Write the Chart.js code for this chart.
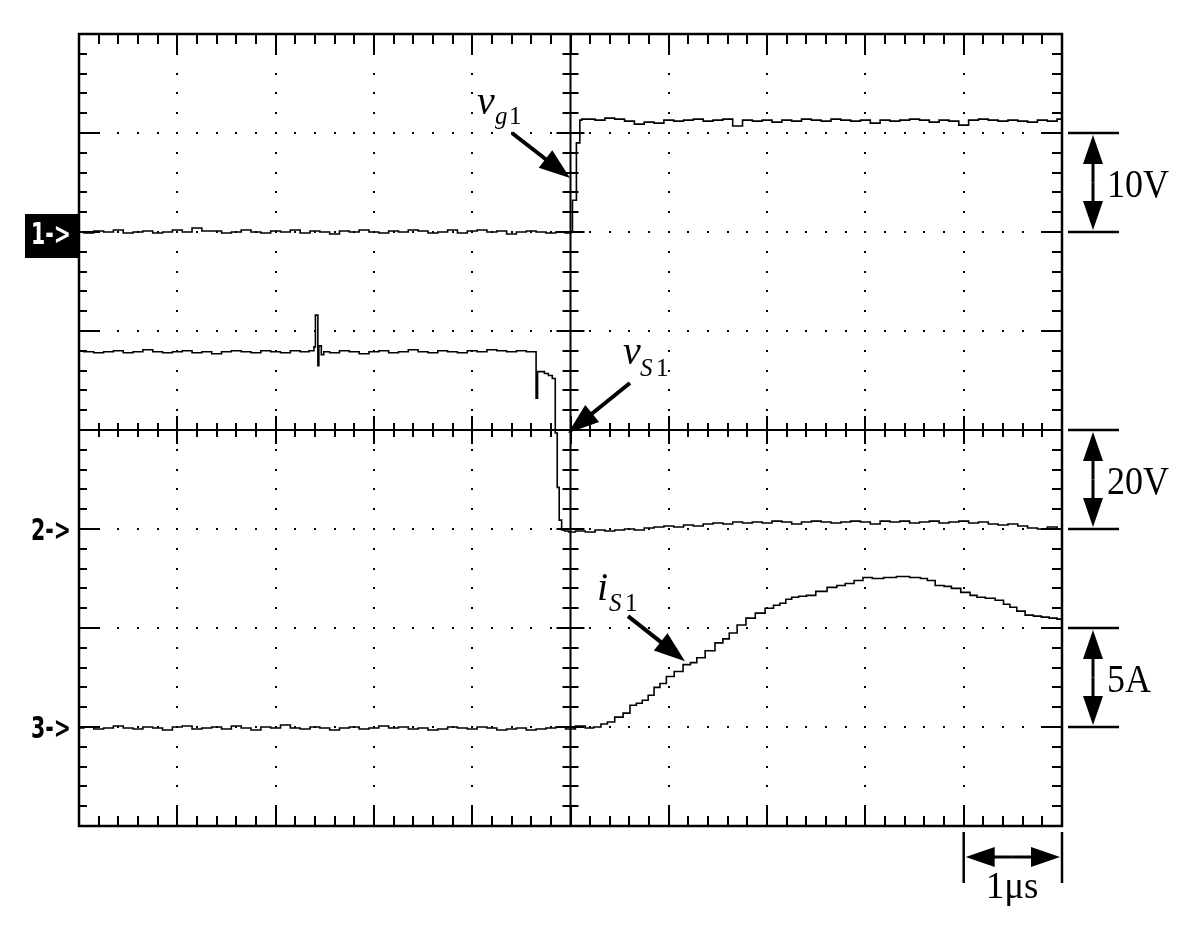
<!DOCTYPE html>
<html>
<head>
<meta charset="utf-8">
<script src="https://cdn.jsdelivr.net/npm/chart.js@4/dist/chart.umd.min.js"></script>
<style>
html,body{margin:0;padding:0;background:#fff;}
canvas{display:block;}
</style>
</head>
<body>
<canvas id="c" width="1198" height="931"></canvas>
<script>
// ---- Data (time in divisions 0..10, 1 div = 1 µs; values in screen divisions, centre = 0) ----
const channelLabels = ['1->', '2->', '3->'];
const channelRefs = [2, -1, -3];
const scaleLabels = ['10V', '20V', '5A'];
const timeLabel = '1\u03bcs';

// v_g1
const vg1Time = [
  0.0,0.1,0.2,0.3,0.4,0.5,0.6,0.7,0.8,0.9,
  1.0,1.1,1.2,1.3,1.4,1.5,1.6,1.7,1.8,1.9,
  2.0,2.1,2.2,2.3,2.4,2.5,2.6,2.7,2.8,2.9,
  3.0,3.1,3.2,3.3,3.4,3.5,3.6,3.7,3.8,3.9,
  4.0,4.1,4.2,4.3,4.4,4.5,4.6,4.7,4.8,4.9,
  4.99,5.02,5.02,5.06,5.06,5.09,5.10,5.13,
  5.2,5.3,5.4,5.5,5.6,5.7,5.8,5.9,6.0,6.1,
  6.2,6.3,6.4,6.5,6.6,6.7,6.8,6.9,7.0,7.1,
  7.2,7.3,7.4,7.5,7.6,7.7,7.8,7.9,8.0,8.1,
  8.2,8.3,8.4,8.5,8.6,8.7,8.8,8.9,9.0,9.1,
  9.2,9.3,9.4,9.5,9.6,9.7,9.8,9.9,10.0
];
const vg1Vals = [
  2.00,1.99,2.01,2.00,2.02,1.99,2.00,2.01,1.99,2.00,
  2.02,2.00,2.04,2.01,2.01,1.99,2.00,2.02,2.00,1.99,
  2.01,2.00,2.02,1.99,2.01,2.00,1.98,2.01,2.00,2.02,
  2.00,1.99,2.01,2.00,2.02,2.01,1.99,2.00,2.02,1.99,
  2.01,2.02,2.00,2.01,1.98,2.00,2.01,2.00,1.99,2.00,
  1.99,2.00,2.32,2.32,2.90,2.90,3.13,3.14,
  3.14,3.13,3.15,3.14,3.12,3.09,3.11,3.10,3.13,3.12,
  3.13,3.14,3.12,3.13,3.14,3.07,3.13,3.12,3.13,3.11,
  3.13,3.12,3.14,3.13,3.12,3.14,3.13,3.12,3.13,3.10,
  3.13,3.12,3.13,3.14,3.13,3.11,3.13,3.12,3.08,3.13,
  3.14,3.13,3.12,3.13,3.12,3.11,3.13,3.12,3.14
];

// v_S1
const vs1Time = [
  0.0,0.1,0.2,0.3,0.4,0.5,0.6,0.7,0.8,0.9,
  1.0,1.1,1.2,1.3,1.4,1.5,1.6,1.7,1.8,1.9,
  2.0,2.1,2.2,2.3,
  2.38,2.40,2.41,2.43,2.43,2.45,2.48,2.5,
  2.6,2.7,2.8,2.9,3.0,3.1,3.2,3.3,3.4,3.5,
  3.6,3.7,3.8,3.9,4.0,4.1,4.2,4.3,4.4,4.5,4.6,
  4.64,4.66,4.67,4.72,4.75,4.80,4.83,4.86,4.87,4.90,4.92,4.96,
  5.0,5.1,5.2,5.3,5.4,5.5,5.6,5.7,5.8,5.9,
  6.0,6.1,6.2,6.3,6.4,6.5,6.6,6.7,6.8,6.9,
  7.0,7.1,7.2,7.3,7.4,7.5,7.6,7.7,7.8,7.9,
  8.0,8.1,8.2,8.3,8.4,8.5,8.6,8.7,8.8,8.9,
  9.0,9.1,9.2,9.3,9.4,9.5,9.6,9.7,9.8,9.9,10.0
];
const vs1Vals = [
  0.80,0.79,0.78,0.79,0.80,0.78,0.79,0.81,0.79,0.78,
  0.79,0.80,0.78,0.79,0.77,0.79,0.80,0.79,0.78,0.80,
  0.79,0.78,0.80,0.79,
  0.80,0.84,1.16,1.16,0.65,0.85,0.76,0.79,
  0.78,0.80,0.79,0.77,0.79,0.80,0.78,0.79,0.81,0.79,
  0.78,0.80,0.79,0.78,0.80,0.79,0.81,0.80,0.79,0.80,0.79,
  0.79,0.32,0.59,0.59,0.57,0.55,0.52,-0.03,-0.58,-0.91,-1.01,-1.02,
  -1.03,-1.02,-1.03,-1.01,-1.02,-1.01,-1.00,-1.01,-0.99,-0.98,
  -0.97,-0.98,-0.96,-0.97,-0.95,-0.94,-0.95,-0.93,-0.94,-0.93,
  -0.94,-0.92,-0.93,-0.95,-0.93,-0.92,-0.93,-0.94,-0.93,-0.92,
  -0.93,-0.95,-0.92,-0.93,-0.92,-0.94,-0.93,-0.92,-0.94,-0.93,
  -0.92,-0.94,-0.93,-0.95,-0.96,-0.95,-0.97,-0.99,-1.00,-0.98,-1.00
];

// i_S1
const is1Time = [
  0.0,0.1,0.2,0.3,0.4,0.5,0.6,0.7,0.8,0.9,
  1.0,1.1,1.2,1.3,1.4,1.5,1.6,1.7,1.8,1.9,
  2.0,2.1,2.2,2.3,2.4,2.5,2.6,2.7,2.8,2.9,
  3.0,3.1,3.2,3.3,3.4,3.5,3.6,3.7,3.8,3.9,
  4.0,4.1,4.2,4.3,4.4,4.5,4.6,4.7,4.8,4.9,
  5.0,5.1,5.2,
  5.27,5.35,5.40,5.50,5.57,5.64,5.70,5.76,5.82,5.88,
  5.94,6.01,6.10,6.19,6.25,6.32,6.42,6.52,6.58,6.65,
  6.74,6.83,6.93,7.03,7.10,7.16,7.22,7.28,7.36,7.44,
  7.55,7.67,7.75,7.84,7.93,8.02,8.12,8.25,8.38,8.52,
  8.60,8.66,8.76,8.84,8.91,9.03,9.10,9.17,9.27,9.37,
  9.44,9.50,9.58,9.67,9.75,9.83,9.91,9.99
];
const is1Vals = [
  -3.01,-3.00,-3.02,-3.01,-2.99,-3.01,-3.02,-3.00,-3.01,-3.03,
  -3.00,-2.99,-3.02,-3.01,-3.00,-3.02,-2.99,-3.01,-3.03,-3.00,
  -3.01,-2.98,-3.01,-3.02,-3.00,-3.01,-3.03,-3.01,-3.00,-3.02,
  -3.01,-2.99,-3.01,-3.00,-3.02,-3.01,-3.03,-3.02,-3.00,-3.01,
  -3.02,-3.00,-3.01,-3.03,-3.02,-3.01,-3.03,-3.02,-3.01,-3.00,
  -3.02,-2.99,-3.01,
  -3.00,-2.97,-2.95,-2.90,-2.86,-2.78,-2.76,-2.73,-2.68,-2.60,
  -2.56,-2.49,-2.44,-2.37,-2.35,-2.30,-2.23,-2.15,-2.11,-2.05,
  -1.97,-1.90,-1.85,-1.80,-1.77,-1.75,-1.71,-1.69,-1.68,-1.67,
  -1.63,-1.59,-1.57,-1.55,-1.52,-1.49,-1.50,-1.49,-1.48,-1.49,
  -1.50,-1.52,-1.57,-1.58,-1.60,-1.64,-1.67,-1.69,-1.70,-1.72,
  -1.76,-1.79,-1.83,-1.87,-1.88,-1.89,-1.90,-1.91
];

function pairs(ts, vs){ return ts.map((t,i)=>({x:t, y:vs[i]})); }

// ---- drawing helpers ----
function line(ctx,x1,y1,x2,y2){ ctx.beginPath(); ctx.moveTo(x1,y1); ctx.lineTo(x2,y2); ctx.stroke(); }
function arrow(ctx,x1,y1,x2,y2,L,W,lw){
  const a=Math.atan2(y2-y1,x2-x1), c=Math.cos(a), s=Math.sin(a);
  const bx=x2-L*c, by=y2-L*s;
  ctx.lineWidth=lw; line(ctx,x1,y1,bx+c*2,by+s*2);
  ctx.beginPath(); ctx.moveTo(x2,y2); ctx.lineTo(bx+W*s,by-W*c); ctx.lineTo(bx-W*s,by+W*c); ctx.closePath(); ctx.fill();
}
function txt(ctx,s,x,y,font,sx){
  ctx.save(); ctx.font=font; ctx.translate(x,y); ctx.scale(sx||1,1); ctx.fillText(s,0,0); ctx.restore();
}

const graticule = {
  id:'graticule',
  beforeDatasetsDraw(chart){
    const {ctx, chartArea:a, scales:{x,y}} = chart;
    ctx.save();
    ctx.fillStyle='#000'; ctx.strokeStyle='#000'; ctx.lineCap='butt';
    for(let i=1;i<10;i++){ if(i===5) continue;
      const px=Math.round(x.getPixelForValue(i));
      for(let k=1;k<40;k++){ const py=Math.round(y.getPixelForValue(-4+k*0.2)); ctx.fillRect(px-1,py-1,2,2); }
    }
    for(let j=-3;j<=3;j++){ if(j===0) continue;
      const py=Math.round(y.getPixelForValue(j));
      for(let k=1;k<50;k++){ const px=Math.round(x.getPixelForValue(k*0.2)); ctx.fillRect(px-1,py-1,2,2); }
    }
    const cx=x.getPixelForValue(5), cy=y.getPixelForValue(0);
    ctx.lineWidth=2;
    line(ctx,a.left,cy,a.right,cy); line(ctx,cx,a.top,cx,a.bottom);
    for(let k=1;k<50;k++){
      const px=Math.round(x.getPixelForValue(k*0.2)), major=(k%5===0);
      const L=major?14:7;
      line(ctx,px,cy-L,px,cy+L);
      line(ctx,px,a.top,px,a.top+(major?20:10));
      line(ctx,px,a.bottom,px,a.bottom-(major?19:10));
    }
    for(let k=1;k<40;k++){
      const py=Math.round(y.getPixelForValue(-4+k*0.2)), major=(k%5===0);
      const L=major?14:8;
      line(ctx,cx-L,py,cx+L,py);
      line(ctx,a.left,py,a.left+(major?21:8),py);
      line(ctx,a.right,py,a.right-(major?20:10),py);
    }
    ctx.lineWidth=2.5;
    ctx.strokeRect(a.left,a.top,a.right-a.left,a.bottom-a.top);
    ctx.restore();
  },
  afterDraw(chart){
    const {ctx, chartArea:a, scales:{x,y}} = chart;
    ctx.save();
    ctx.fillStyle='#000'; ctx.strokeStyle='#000'; ctx.textAlign='left'; ctx.textBaseline='alphabetic';
    channelRefs.forEach((r,i)=>{
      const py=y.getPixelForValue(r);
      if(i===0){
        ctx.fillRect(25,py-18,a.left-25,44);
        ctx.fillStyle='#fff';
        txt(ctx,channelLabels[i],31,py+12,'bold 31px "DejaVu Sans"',0.66);
        ctx.fillStyle='#000';
      } else {
        txt(ctx,channelLabels[i],31,py+11,'bold 31px "DejaVu Sans"',0.66);
      }
    });
    const spans=[[3,2],[0,-1],[-2,-3]];
    const mx=a.right+31;
    spans.forEach((s,i)=>{
      const t=y.getPixelForValue(s[0]), b=y.getPixelForValue(s[1]);
      ctx.lineWidth=2.5;
      line(ctx,a.right+6,t,a.right+57,t);
      line(ctx,a.right+6,b,a.right+57,b);
      const m=(t+b)/2;
      arrow(ctx,mx,m,mx,t+2,29,10,3);
      arrow(ctx,mx,m,mx,b-2,29,10,3);
      txt(ctx,scaleLabels[i],a.right+45,(t+b)/2+14,'40px "Liberation Serif"',0.9);
    });
    const x9=x.getPixelForValue(9), x10=x.getPixelForValue(10);
    ctx.lineWidth=2.5;
    line(ctx,x9,a.bottom+6,x9,a.bottom+57);
    line(ctx,x10,a.bottom+6,x10,a.bottom+57);
    const my=a.bottom+31, mmx=(x9+x10)/2;
    arrow(ctx,mmx,my,x9+2,my,29,10,3);
    arrow(ctx,mmx,my,x10-2,my,29,10,3);
    txt(ctx,timeLabel,x9+22,a.bottom+72,'37px "Liberation Serif"',1);
    const P=(t,v)=>[x.getPixelForValue(t),y.getPixelForValue(v)];
    let s,e;
    s=P(4.405,3.0); e=P(4.995,2.545);
    arrow(ctx,s[0],s[1],e[0],e[1],31,11,4);
    txt(ctx,'v',477,114,'italic 40px "Liberation Serif"',1);
    txt(ctx,'g',495,124,'italic 25px "Liberation Serif"',1);
    txt(ctx,'1',509,124,'25px "Liberation Serif"',1);
    s=P(5.605,0.475); e=P(4.975,-0.03);
    arrow(ctx,s[0],s[1],e[0],e[1],31,11,4);
    txt(ctx,'v',623,364,'italic 40px "Liberation Serif"',1);
    txt(ctx,'S',640,376,'italic 25px "Liberation Serif"',1);
    txt(ctx,'1',656,376,'25px "Liberation Serif"',1);
    s=P(5.585,-1.88); e=P(6.165,-2.335);
    arrow(ctx,s[0],s[1],e[0],e[1],31,11,4);
    txt(ctx,'i',597,600,'italic 40px "Liberation Serif"',1);
    txt(ctx,'S',609,611,'italic 25px "Liberation Serif"',1);
    txt(ctx,'1',625,611,'25px "Liberation Serif"',1);
    ctx.restore();
  }
};

const ds = (data)=>({data, borderColor:'#000', borderWidth:1.6, pointRadius:0, tension:0, stepped:'middle', fill:false});

new Chart(document.getElementById('c'), {
  type:'line',
  data:{ datasets:[ ds(pairs(vg1Time,vg1Vals)), ds(pairs(vs1Time,vs1Vals)), ds(pairs(is1Time,is1Vals)) ] },
  options:{
    responsive:false, animation:false, devicePixelRatio:1,
    layout:{ padding:{left:79, top:34, right:136, bottom:105} },
    plugins:{ legend:{display:false}, tooltip:{enabled:false} },
    scales:{
      x:{ type:'linear', min:0, max:10, display:false },
      y:{ type:'linear', min:-4, max:4, display:false }
    }
  },
  plugins:[graticule]
});
</script>
</body>
</html>
